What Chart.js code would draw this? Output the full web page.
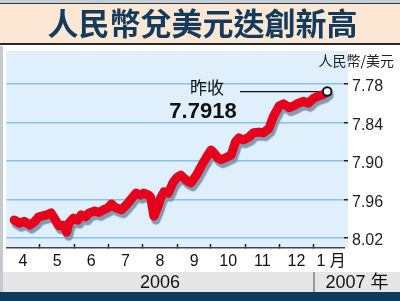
<!DOCTYPE html>
<html><head><meta charset="utf-8">
<script src="https://cdn.jsdelivr.net/npm/chart.js@4.4.0/dist/chart.umd.min.js"></script>
<style>html,body{margin:0;padding:0;background:#fff;overflow:hidden;}</style>
</head><body>
<canvas id="c" width="400" height="301"></canvas>
<script>
const titleText = '人民幣兌美元迭創新高';
const unitText = '人民幣/美元';
const closeLabel = '昨收';
// days counted from 2006-04-01
const days = [7,12,16,21,25,29,36,40,45,47,51,54,56,60,64,67,71,74,79,83,87,91,94,98,103,107,116,120,123,127,129,132,136,138,141,145,149,153,156,161,165,170,174,179,183,186,189,192,196,201,205,208,212,217,221,226,230,235,239,244,248,253,257,261,266,270,275,279,284,287];
const rates = [7.992,7.997,7.994,8.000,7.995,7.987,7.984,7.981,7.995,8.001,8.000,8.011,7.997,7.989,7.992,7.984,7.987,7.981,7.978,7.980,7.976,7.973,7.967,7.973,7.976,7.969,7.950,7.953,7.950,7.953,7.956,7.986,7.969,7.958,7.948,7.950,7.934,7.925,7.922,7.930,7.934,7.922,7.909,7.894,7.883,7.888,7.895,7.898,7.895,7.891,7.870,7.864,7.867,7.863,7.856,7.855,7.856,7.849,7.830,7.814,7.811,7.817,7.814,7.810,7.807,7.810,7.802,7.799,7.796,7.7918];
const yTicks = [7.78, 7.84, 7.90, 7.96, 8.02];
const monthLabels = ['4','5','6','7','8','9','10','11','12','1 月'];
const monthStarts = [0,30,61,91,122,153,183,214,244,275,306];
const yearLabels = ['2006','2007 年'];
const yearStart2007 = 275;

const last = rates.length - 1;
const FONT_LAT = '"Liberation Sans", Arial, "Noto Sans CJK TC", sans-serif';
const FONT_CJK = '"Noto Sans CJK TC", "Liberation Sans", sans-serif';

const bgPlugin = {
  id: 'bg',
  beforeDraw(chart) {
    const ctx = chart.ctx, ca = chart.chartArea;
    ctx.save();
    ctx.fillStyle = '#fff'; ctx.fillRect(0, 0, 400, 301);
    ctx.fillStyle = '#c3ced6'; ctx.fillRect(0, 0, 400, 3);
    ctx.fillStyle = '#2d3a44'; ctx.fillRect(0, 3, 400, 1);
    ctx.fillStyle = '#fbe7d3'; ctx.fillRect(0, 4, 400, 39);
    ctx.fillStyle = '#2a2a2a'; ctx.fillRect(0, 43, 400, 2);
    ctx.fillStyle = '#c4cad0'; ctx.fillRect(0, 46, 3, 246);
    ctx.fillStyle = '#dfeffb'; ctx.fillRect(ca.left, ca.top, ca.right + 4 - ca.left, ca.bottom - ca.top);
    ctx.fillStyle = '#e6e6e6'; ctx.fillRect(3, 272, 397, 20);
    const sx = chart.scales.x.getPixelForValue(yearStart2007);
    ctx.fillStyle = '#9a9a9a'; ctx.fillRect(Math.round(sx) - 1, 272, 2, 20);
    ctx.fillStyle = '#0f3a5c'; ctx.fillRect(0, 292, 400, 9);
    ctx.restore();
  },
  beforeDatasetsDraw(chart) {
    const ctx = chart.ctx;
    const px = chart.scales.x.getPixelForValue(days[last]);
    const py = chart.scales.y.getPixelForValue(rates[last]);
    ctx.save();
    ctx.strokeStyle = '#111'; ctx.lineWidth = 1.2;
    ctx.beginPath(); ctx.moveTo(240, py); ctx.lineTo(px, py); ctx.stroke();
    ctx.restore();
  },
  beforeDatasetDraw(chart, args) {
    if (args.index === 0) {
      const ctx = chart.ctx;
      ctx.save();
      ctx.shadowColor = 'rgba(120,145,168,0.9)';
      ctx.shadowOffsetX = 2; ctx.shadowOffsetY = 4; ctx.shadowBlur = 1;
    }
  },
  afterDatasetDraw(chart, args) {
    if (args.index === 0) chart.ctx.restore();
  },
  afterDraw(chart) {
    const ctx = chart.ctx, ca = chart.chartArea;
    const sx = chart.scales.x.getPixelForValue(yearStart2007);
    ctx.save();
    ctx.fillStyle = '#222';
    ctx.textBaseline = 'middle';
    ctx.textAlign = 'right';
    ctx.font = '14px ' + FONT_CJK;
    ctx.fillText(unitText, 394, 61);
    ctx.textAlign = 'center';
    ctx.fillStyle = '#111';
    ctx.font = '18px ' + FONT_LAT;
    ctx.fillText(yearLabels[0], (ca.left + sx) / 2, 283);
    ctx.fillText(yearLabels[1], (sx + 400) / 2, 283);
    ctx.font = '17px ' + FONT_CJK;
    ctx.fillText(closeLabel, 207, 88);
    ctx.font = 'bold 22px ' + FONT_LAT;
    ctx.fillText(rates[last].toFixed(4), 203, 112);
    ctx.restore();
  }
};

new Chart(document.getElementById('c'), {
  type: 'line',
  data: {
    datasets: [
      { data: days.map((d, i) => ({ x: d, y: rates[i] })), borderColor: '#e6001c', borderWidth: 9,
        pointRadius: 0, tension: 0, borderJoinStyle: 'round', borderCapStyle: 'round', order: 2 },
      { data: [{ x: days[last], y: rates[last] }], showLine: false, pointRadius: 4.3,
        pointBackgroundColor: '#fff', pointBorderColor: '#111', pointBorderWidth: 2, order: 1 }
    ]
  },
  options: {
    responsive: false, animation: false, devicePixelRatio: 1,
    layout: { padding: { left: 5, right: 0, top: 0, bottom: 0 } },
    plugins: {
      legend: { display: false }, tooltip: { enabled: false },
      title: { display: true, text: titleText, color: '#143b5b',
        font: { family: FONT_CJK, size: 31, weight: 'bold' }, padding: { top: 5, bottom: 8.8 } }
    },
    scales: {
      x: {
        type: 'linear', position: 'bottom', min: 0, max: 302, weight: 0,
        afterBuildTicks: s => { s.ticks = monthStarts.filter(v => v > 0 && v < 302).map(v => ({ value: v })); },
        afterFit: s => { s.height = 0; },
        ticks: { display: false },
        grid: { drawOnChartArea: false, drawTicks: true, tickLength: -4, tickColor: '#222', tickWidth: 1.5, color: '#222' },
        border: { display: true, color: '#444', width: 1.5 }
      },
      xm: {
        type: 'linear', position: 'bottom', min: 0, max: 302, weight: 1,
        afterBuildTicks: s => {
          s.ticks = monthLabels.map((l, i) => ({ value: (monthStarts[i] + monthStarts[i + 1]) / 2 }));
        },
        afterFit: s => { s.height = 53; },
        ticks: { autoSkip: false, maxRotation: 0, padding: 4, color: '#111',
          font: { family: FONT_LAT, size: 16 }, callback: (v, i) => monthLabels[i] },
        grid: { display: false, drawTicks: false },
        border: { display: false }
      },
      y: {
        type: 'linear', position: 'right', reverse: true, min: 7.7286, max: 8.0356,
        afterBuildTicks: s => { s.ticks = yTicks.map(v => ({ value: v })); },
        afterFit: s => { s.width = 56; },
        ticks: { padding: 4, color: '#222', labelOffset: 3, font: { family: FONT_LAT, size: 16 },
          callback: v => v.toFixed(2) },
        grid: { color: '#86c2ea', lineWidth: 1.5, tickColor: '#222', tickLength: 4, tickWidth: 1.5 },
        border: { display: false }
      }
    }
  },
  plugins: [bgPlugin]
});
</script>
</body></html>
